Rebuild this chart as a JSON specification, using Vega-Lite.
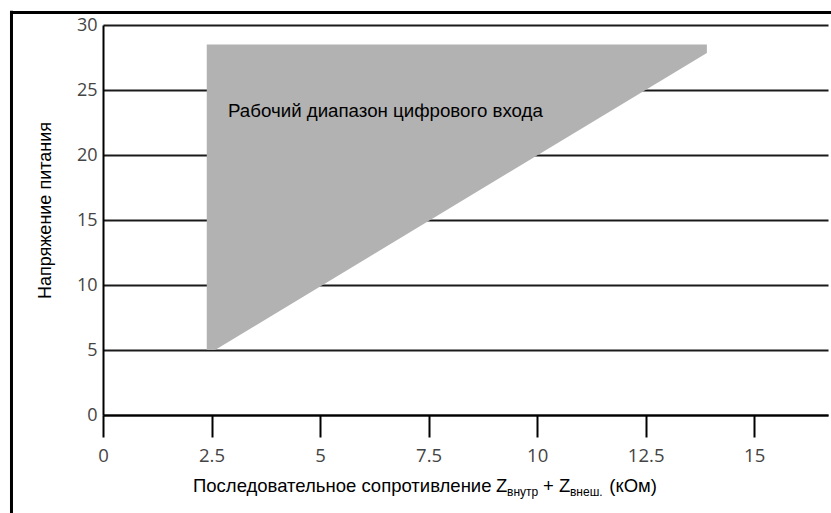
{
  "$schema": "https://vega.github.io/schema/vega-lite/v6.json",
  "width": 725,
  "height": 390,
  "autosize": {"type": "none"},
  "padding": {"left": 103, "top": 25, "right": 3, "bottom": 98},
  "background": "white",
  "config": {"view": {"stroke": null}},
  "layer": [
    {
      "data": {"values": [
        {"r": 2.39, "lo": 5.0, "hi": 28.5},
        {"r": 2.58, "lo": 5.0, "hi": 28.5},
        {"r": 13.91, "lo": 27.85, "hi": 28.5}
      ]},
      "mark": {"type": "area", "color": "#b2b2b2", "opacity": 1},
      "encoding": {
        "x": {"field": "r", "type": "quantitative",
          "scale": {"domain": [0, 16.7], "nice": false, "zero": false},
          "axis": {"title": null, "values": [0, 2.5, 5, 7.5, 10, 12.5, 15], "labelExpr": "'' + datum.value",
            "domain": true, "domainColor": "#000", "domainWidth": 2,
            "ticks": true, "tickColor": "#000", "tickWidth": 2, "tickSize": 22,
            "grid": false, "labelFont": "Open Sans", "labelFontSize": 18.5, "labelColor": "#444",
            "labelPadding": 9, "labelFlush": false}},
        "y": {"field": "lo", "type": "quantitative",
          "scale": {"domain": [0, 30], "nice": false, "zero": false},
          "axis": {"title": "Напряжение питания", "values": [0, 5, 10, 15, 20, 25, 30],
            "domain": true, "domainColor": "#000", "domainWidth": 2,
            "ticks": false, "grid": true, "gridColor": "#1a1a1a", "gridWidth": 2,
            "labelFont": "Open Sans", "labelFontSize": 18, "labelColor": "#444", "labelPadding": 6,
            "titleFont": "Liberation Sans", "titleFontSize": 18, "titleFontWeight": "normal", "titleColor": "#000",
            "titlePadding": 22, "titleY": 185}},
        "y2": {"field": "hi"}
      }
    },
    {
      "data": {"values": [{}]},
      "mark": {"type": "text", "text": "Рабочий диапазон цифрового входа", "align": "left", "baseline": "alphabetic", "font": "Liberation Sans", "fontSize": 18.7, "color": "#000"},
      "encoding": {"x": {"datum": 2.88, "type": "quantitative"}, "y": {"datum": 22.95, "type": "quantitative"}}
    },
    {
      "data": {"values": [{}]},
      "mark": {"type": "text", "text": "Последовательное сопротивление", "align": "left", "baseline": "alphabetic", "font": "Liberation Sans", "fontSize": 18.5, "color": "#000"},
      "encoding": {"x": {"datum": 2.073, "type": "quantitative"}, "y": {"datum": -5.95, "type": "quantitative"}}
    },
    {
      "data": {"values": [{}]},
      "mark": {"type": "text", "text": "Z", "align": "left", "baseline": "alphabetic", "font": "Liberation Sans", "fontSize": 18.5, "color": "#000"},
      "encoding": {"x": {"datum": 9.053, "type": "quantitative"}, "y": {"datum": -5.95, "type": "quantitative"}}
    },
    {
      "data": {"values": [{}]},
      "mark": {"type": "text", "text": "внутр", "align": "left", "baseline": "alphabetic", "font": "Liberation Sans", "fontSize": 12, "color": "#000"},
      "encoding": {"x": {"datum": 9.306, "type": "quantitative"}, "y": {"datum": -6.23, "type": "quantitative"}}
    },
    {
      "data": {"values": [{}]},
      "mark": {"type": "text", "text": "+ Z", "align": "left", "baseline": "alphabetic", "font": "Liberation Sans", "fontSize": 18.5, "color": "#000"},
      "encoding": {"x": {"datum": 10.135, "type": "quantitative"}, "y": {"datum": -5.95, "type": "quantitative"}}
    },
    {
      "data": {"values": [{}]},
      "mark": {"type": "text", "text": "внеш.", "align": "left", "baseline": "alphabetic", "font": "Liberation Sans", "fontSize": 12, "color": "#000"},
      "encoding": {"x": {"datum": 10.757, "type": "quantitative"}, "y": {"datum": -6.23, "type": "quantitative"}}
    },
    {
      "data": {"values": [{}]},
      "mark": {"type": "text", "text": "(кОм)", "align": "left", "baseline": "alphabetic", "font": "Liberation Sans", "fontSize": 18.5, "color": "#000"},
      "encoding": {"x": {"datum": 11.664, "type": "quantitative"}, "y": {"datum": -5.95, "type": "quantitative"}}
    },
    {
      "data": {"values": [{}]},
      "mark": {"type": "rule", "color": "#000", "strokeWidth": 3},
      "encoding": {"x": {"datum": -2.108, "type": "quantitative"}, "y": {"datum": 31.1, "type": "quantitative"}, "y2": {"datum": -8}}
    },
    {
      "data": {"values": [{}]},
      "mark": {"type": "rule", "color": "#000", "strokeWidth": 3},
      "encoding": {"y": {"datum": 30.96, "type": "quantitative"}, "x": {"datum": -2.14, "type": "quantitative"}, "x2": {"datum": 17}}
    }
  ]
}
